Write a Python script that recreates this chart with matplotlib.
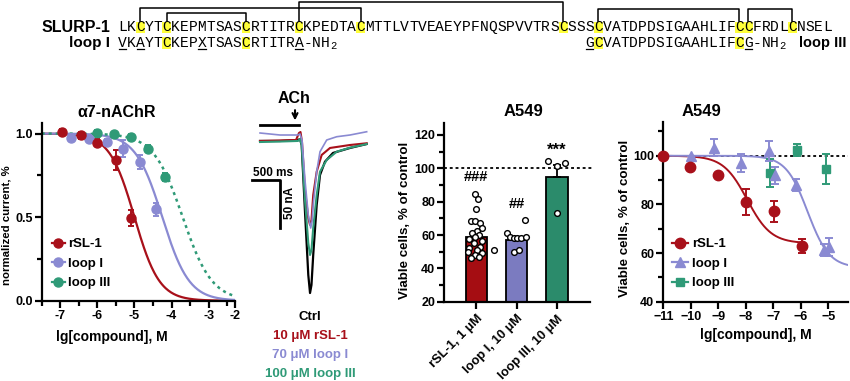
import numpy as np
import matplotlib
matplotlib.use('Agg')
import matplotlib.pyplot as plt
import matplotlib.transforms as mtransforms
from matplotlib.lines import Line2D
from matplotlib.patches import Rectangle

plt.rcParams['font.family'] = ['Liberation Sans', 'DejaVu Sans']
plt.rcParams['font.weight'] = 'bold'
plt.rcParams['axes.labelweight'] = 'bold'

# ---------------- data ----------------
seq_slurp = "LKCYTCKEPMTSASCRTITRCKPEDTACMTTLVTVEAEYPFNQSPVVTRSCSSSCVATDPDSIGAAHLIFCCFRDLCNSEL"
seq_loop1 = "VKAYTCKEPXTSASCRTITRA"
seq_loop3 = "GCVATDPDSIGAAHLIFCG"
loop3_start = 54            # residue number of first loop III residue
loop1_underlined = [1, 3, 10, 21]
loop3_underlined = [54, 72]
disulfides = [(3, 28), (6, 15), (21, 51), (55, 71), (72, 77)]

# panel A: alpha7-nAChR dose response
a_rsl_x = [-6.95, -6.45, -6.0, -5.5, -5.1]
a_rsl_y = [1.01, 0.99, 0.945, 0.84, 0.495]
a_rsl_e = [0.015, 0.02, 0.02, 0.06, 0.05]
a_l1_x = [-6.7, -6.22, -5.75, -5.3, -4.86, -4.41]
a_l1_y = [0.975, 0.97, 0.95, 0.91, 0.83, 0.546]
a_l1_e = [0.02, 0.02, 0.02, 0.05, 0.04, 0.04]
a_l3_x = [-6.0, -5.55, -5.08, -4.63, -4.18]
a_l3_y = [1.005, 0.995, 0.98, 0.91, 0.74]
a_l3_e = [0.015, 0.015, 0.02, 0.02, 0.025]
# Hill fit parameters (logIC50, slope)
a_rsl_fit = (-5.0, 1.3)
a_l1_fit = (-4.25, 1.2)
a_l3_fit = (-3.7, 1.1)

# trace panel: time (ms) and current (nA)
tr_black_t = [-714, -357, -36, 0, 30, 89, 148, 179, 205, 236, 298, 357, 446, 589, 893, 1191]
tr_black_i = [-1, -1, 0, 1, -5.2, -74.7, -140.6, -159.4, -151, -119.8, -67.7, -36.5, -22.6, -13.5, -8.3, -4.2]
tr_green_t = [-714, -357, -36, 0, 30, 89, 148, 179, 205, 236, 298, 357, 477, 655, 893, 1191]
tr_green_i = [-2.1, -1.6, -1, 1, -5.2, -62.5, -107.3, -119.8, -114.6, -91.7, -57.3, -33, -20.8, -12.2, -8, -4.2]
tr_red_t = [-714, -357, -71, -18, 9, 36, 89, 148, 179, 205, 236, 298, 387, 536, 893, 1191]
tr_red_i = [-1, -0.5, 0, 7.3, 8.3, -2.1, -52.1, -81.3, -88.5, -83.3, -57.3, -33, -15.6, -8.3, -5.2, -3.4]
tr_purple_t = [-714, -357, -36, 0, 36, 89, 148, 191, 214, 236, 298, 357, 477, 655, 893, 1191]
tr_purple_i = [7.3, 5.2, 5.2, 6.3, 0, -41.7, -78.1, -91.7, -85.4, -67.7, -33, -12.2, 0, 3.4, 5.2, 8.6]
trace_labels = ["Ctrl", "10 \u03bcM rSL-1", "70 \u03bcM loop I", "100 \u03bcM loop III"]

# bar panel
bar_labels = ["rSL-1, 1 \u03bcM", "loop I, 10 \u03bcM", "loop III, 10 \u03bcM"]
bar_means = [58.6, 56.8, 94.6]
bar_sem = [2.3, 1.6, 7.6]
bar_marks = ["###", "##", "***"]
bar_mark_y = [94.6, 78.4, 111.0]
dots_rsl = [84.6, 81.4, 75.4, 68.6, 68.6, 67, 64, 62.4, 61, 60, 59, 57.4, 56.6, 55.4, 53, 52, 51, 50, 49, 48, 47, 46, 51]
dots_rsl_dx = [-0.04, 0.05, -0.01, -0.14, -0.04, 0.09, 0.13, 0.02, -0.12, 0.07, -0.04, -0.18, 0.14, -0.06, 0.09, -0.18, 0.02, -0.21, 0.13, -0.04, 0.07, -0.14, 0.44]
dots_l1 = [69, 61, 58.6, 58, 58, 58, 59, 50, 51]
dots_l1_dx = [0.22, -0.24, -0.17, -0.07, 0.02, 0.12, 0.23, -0.07, 0.05]
dots_l3 = [104.6, 101.4, 103, 73]
dots_l3_dx = [-0.21, 0.0, 0.21, 0.0]

# A549 dose response
c_rsl_x = [-11, -10.03, -9.0, -7.99, -6.96, -5.97]
c_rsl_y = [100, 95.2, 92.1, 81.1, 77.2, 62.9]
c_rsl_e = [0, 0, 0, 5.3, 4.4, 2.7]
c_l1_x = [-10.0, -9.16, -8.18, -7.16, -6.94, -6.18, -5.15, -4.96]
c_l1_y = [100, 103.2, 97, 102, 92, 88, 61.1, 62.5]
c_l1_e = [0, 3.5, 3.8, 4.0, 3.5, 2.4, 2.5, 3.6]
c_l3_x = [-7.12, -6.15, -5.08]
c_l3_y = [92.8, 102.5, 94.5]
c_l3_e = [5.7, 2.5, 6.1]
# (logIC50, slope, top, bottom, x_end)
c_rsl_fit = (-7.95, 1.0, 100, 64, -5.9)
c_l1_fit = (-5.75, 1.1, 100, 54, -4.27)

RED = '#a8101a'
PUR = '#8a8ad2'
GRN = '#2f9a77'
BAR_RED = '#a50d12'
BAR_PUR = '#7b7bc0'
BAR_GRN = '#2b8b6b'
YEL = '#ffff3a'

# ---------------- figure ----------------
W, H = 850, 381
fig = plt.figure(figsize=(W / 100, H / 100), dpi=100)


def pax(l, t, r, b):
    return fig.add_axes([l / W, 1 - b / H, (r - l) / W, (b - t) / H])


ov = pax(0, 0, W, H)
ov.set_xlim(0, W)
ov.set_ylim(H, 0)
ov.axis('off')

# ---- sequence header ----
x0, cw = 118.3, 8.81
y1, y2 = 27.3, 42.7
mono = dict(family='Liberation Mono', fontsize=10.5, fontweight='normal', ha='center', va='center')


def cx(pos):
    return x0 + (pos - 0.5) * cw


for i, ch in enumerate(seq_slurp):
    p = i + 1
    if ch == 'C':
        ov.add_patch(Rectangle((cx(p) - cw / 2, y1 - 5.8), cw, 11.6, color=YEL, lw=0, zorder=1))
    ov.text(cx(p), y1, ch, zorder=3, **mono)


def draw_row2(seq, start, underl):
    for i, ch in enumerate(seq):
        p = start + i
        if ch == 'C':
            ov.add_patch(Rectangle((cx(p) - cw / 2, y2 - 5.8), cw, 11.8, color=YEL, lw=0, zorder=1))
        ov.text(cx(p), y2, ch, zorder=3, **mono)
        if p in underl:
            ov.plot([cx(p) - cw / 2 + 0.8, cx(p) + cw / 2 - 0.8], [y2 + 6.0, y2 + 6.0], color='k', lw=0.9, zorder=3)
    end = start + len(seq)
    for j, ch in enumerate("-NH"):
        ov.text(cx(end + j), y2, ch, zorder=3, **mono)
    ov.text(x0 + (end + 2) * cw, y2 + 3, "2", family='Liberation Mono', fontsize=7.5,
            fontweight='normal', ha='left', va='center')


draw_row2(seq_loop1, 1, loop1_underlined)
draw_row2(seq_loop3, loop3_start, loop3_underlined)

bracket_h = {(3, 28): 8.3, (6, 15): 12.7, (21, 51): 1.7, (55, 71): 9.3, (72, 77): 9.3}
for a, b in disulfides:
    h = bracket_h[(a, b)]
    ov.plot([cx(a), cx(a), cx(b), cx(b)], [20.7, h, h, 20.7], color='k', lw=1.1, zorder=2)

ov.text(110, y1, "SLURP-1", ha='right', va='center', fontsize=11.5)
ov.text(110, y2, "loop I", ha='right', va='center', fontsize=11)
ov.text(847, y2, "loop III", ha='right', va='center', fontsize=10.5)


def style(ax):
    for s in ['top', 'right']:
        ax.spines[s].set_visible(False)
    for s in ['left', 'bottom']:
        ax.spines[s].set_linewidth(1.6)
    ax.tick_params(which='major', length=5, width=1.6, labelsize=9, pad=1.5)
    ax.tick_params(which='minor', length=3.5, width=1.6)
    ax.patch.set_visible(False)


def hill(x, logic, n, top=1.0, bottom=0.0):
    return bottom + (top - bottom) / (1 + 10 ** (n * (np.asarray(x) - logic)))


# ---- panel A ----
ax1 = pax(41.7, 122.7, 235, 300.7)
style(ax1)
ax1.set_xlim(-7.5, -2.29)
ax1.set_ylim(0, 1.065)
ax1.set_xticks([-7, -6, -5, -4, -3, -2.29])
ax1.set_xticklabels(['-7', '-6', '-5', '-4', '-3', '-2'])
ax1.set_xticks([-7.5, -6.5, -5.5, -4.5, -3.5, -2.5], minor=True)
ax1.set_yticks([0, 0.5, 1.0])
ax1.set_yticklabels(['0.0', '0.5', '1.0'])
ax1.set_yticks([0.25, 0.75], minor=True)
xx = np.linspace(-7.5, -2.29, 300)
ax1.plot(xx, hill(xx, *a_rsl_fit), color=RED, lw=1.6, zorder=2)
ax1.plot(xx, hill(xx, *a_l1_fit), color=PUR, lw=1.6, zorder=2)
ax1.plot(xx, hill(xx, *a_l3_fit), color=GRN, lw=1.8, ls=(0, (1.2, 1.6)), zorder=2)
for x, y, e, c in [(a_l3_x, a_l3_y, a_l3_e, GRN), (a_l1_x, a_l1_y, a_l1_e, PUR), (a_rsl_x, a_rsl_y, a_rsl_e, RED)]:
    ax1.errorbar(x, y, yerr=e, fmt='o', color=c, ms=6.5, capsize=2.5, elinewidth=1.4, capthick=1.4, zorder=3, clip_on=False)
h1 = [Line2D([], [], color=RED, marker='o', ms=6.5, lw=1.6),
      Line2D([], [], color=PUR, marker='o', ms=6.5, lw=1.6),
      Line2D([], [], color=GRN, marker='o', ms=6.5, lw=1.6)]
ax1.legend(h1, ['rSL-1', 'loop I', 'loop III'], loc='upper left', bbox_to_anchor=(52 / W, 1 - 238 / H),
           bbox_transform=fig.transFigure, frameon=False, borderpad=0, handlelength=0.95,
           handletextpad=0.3, labelspacing=0.55, fontsize=9.5, borderaxespad=0)

ov.text(117, 112.7, "\u03b17-nAChR", ha='center', va='center', fontsize=11.5)
ov.text(112, 337, "lg[compound], M", ha='center', va='center', fontsize=10)
ov.text(7, 225, "normalized current, %", ha='center', va='center', rotation=90, fontsize=8.2)

# ---- trace panel ----
axt = pax(240, 90, 380, 300)
axt.set_xlim((240 - 300) * 17.86, (380 - 300) * 17.86)
axt.set_ylim((140 - 300) * 1.0417, (140 - 90) * 1.0417)
axt.axis('off')
axt.plot(tr_black_t, tr_black_i, color='k', lw=1.6)
axt.plot(tr_red_t, tr_red_i, color=RED, lw=1.5)
axt.plot(tr_green_t, tr_green_i, color=GRN, lw=1.5)
axt.plot(tr_purple_t, tr_purple_i, color=PUR, lw=1.2)
# ACh application bar and arrow
axt.plot([-714, -18], [15.6, 15.6], color='k', lw=2)
axt.annotate('', xy=(-89, 17.5), xytext=(-89, 34),
             arrowprops=dict(arrowstyle='->', color='k', lw=1.5, mutation_scale=9))
axt.text(-107, 43.5, "ACh", ha='center', va='center', fontsize=11.5)
# scale bars
sb_t, sb_i = -857, -41.7
axt.plot([sb_t, sb_t + 500, sb_t + 500], [sb_i, sb_i, sb_i - 50], color='k', lw=2)
axt.text(sb_t + 10, sb_i + 7, "500 ms", ha='left', va='center', fontsize=8.5)
axt.text(sb_t + 500 + 180, sb_i - 24, "50 nA", ha='center', va='center', rotation=90, fontsize=8.5)
for lab, c, y in zip(trace_labels, ['k', RED, PUR, GRN], [317, 335.5, 355, 373.5]):
    ov.text(310, y, lab, ha='center', va='center', color=c, fontsize=9.5)

# ---- bar panel ----
ax3 = pax(444.3, 123.3, 590, 301.7)
style(ax3)
ax3.set_xlim(-0.8, 2.83)
ax3.set_ylim(20, 127)
ax3.set_yticks([20, 40, 60, 80, 100, 120])
ax3.set_yticks([30, 50, 70, 90, 110], minor=True)
xs = np.arange(len(bar_means))
ax3.bar(xs, bar_means, width=0.54, color=[BAR_RED, BAR_PUR, BAR_GRN], edgecolor='k', lw=1.3, zorder=2)
ax3.errorbar(xs, bar_means, yerr=[[0, 0, 0], bar_sem], fmt='none', ecolor='k', elinewidth=1.3,
             capsize=3, capthick=1.3, zorder=2)
for i, (vals, dx) in enumerate([(dots_rsl, dots_rsl_dx), (dots_l1, dots_l1_dx), (dots_l3, dots_l3_dx)]):
    ax3.scatter(np.array(dx) + i, vals, s=17, facecolor='white', edgecolor='k', lw=1.0, zorder=4)
ax3.axhline(100, color='k', lw=1.3, ls=(0, (1.6, 1.6)), zorder=3, xmax=1.02, clip_on=False)
for i, (m, y) in enumerate(zip(bar_marks, bar_mark_y)):
    ax3.text(i, y, m, ha='center', va='center', fontsize=12 if m == "***" else 10.5)
ax3.set_xticks(xs)
ax3.set_xticklabels(bar_labels, rotation=45, ha='right', va='top', rotation_mode='anchor', fontsize=9.3)
shift = mtransforms.ScaledTranslation(6 / 100, 1 / 100, fig.dpi_scale_trans)
for lab in ax3.get_xticklabels():
    lab.set_transform(lab.get_transform() + shift)
ax3.tick_params(axis='x', pad=3)
ov.text(523.3, 111.7, "A549", ha='center', va='center', fontsize=12)
ov.text(405, 220, "Viable cells, % of control", ha='center', va='center', rotation=90, fontsize=9.6)

# ---- A549 dose response ----
ax4 = pax(663.3, 121.7, 848.3, 301.7)
style(ax4)
ax4.set_xlim(-11, -4.27)
ax4.set_ylim(40, 114)
ax4.set_xticks([-11, -10, -9, -8, -7, -6, -5])
ax4.set_yticks([40, 60, 80, 100])
ax4.set_yticks([50, 70, 90, 110], minor=True)
ax4.axhline(100, color='k', lw=1.3, ls=(0, (1.6, 1.6)), zorder=1)
lg, n, top, bot, xe = c_rsl_fit
x4 = np.linspace(-11, xe, 300)
ax4.plot(x4, hill(x4, lg, n, top, bot), color=RED, lw=1.4, zorder=2)
lg, n, top, bot, xe = c_l1_fit
x4 = np.linspace(-11, xe, 300)
ax4.plot(x4, hill(x4, lg, n, top, bot), color=PUR, lw=1.4, zorder=2)
ax4.errorbar(c_l3_x, c_l3_y, yerr=c_l3_e, fmt='s', color=GRN, ms=6, capsize=3, elinewidth=1.4, capthick=1.4, zorder=3)
ax4.errorbar(c_l1_x, c_l1_y, yerr=c_l1_e, fmt='^', color=PUR, ms=7.5, capsize=3, elinewidth=1.4, capthick=1.4, zorder=3)
ax4.errorbar(c_rsl_x, c_rsl_y, yerr=c_rsl_e, fmt='o', color=RED, ms=7.5, capsize=3, elinewidth=1.4, capthick=1.4, zorder=4, clip_on=False)
h4 = [Line2D([], [], color=RED, marker='o', ms=7.5, lw=1.6),
      Line2D([], [], color=PUR, marker='^', ms=7.5, lw=1.6),
      Line2D([], [], color=GRN, marker='s', ms=6, lw=1.6)]
ax4.legend(h4, ['rSL-1', 'loop I', 'loop III'], loc='upper left', bbox_to_anchor=(672 / W, 1 - 238 / H),
           bbox_transform=fig.transFigure, frameon=False, borderpad=0, handlelength=1.2,
           handletextpad=0.3, labelspacing=0.55, fontsize=9.5, borderaxespad=0)
ov.text(701.7, 111.7, "A549", ha='center', va='center', fontsize=12)
ov.text(755.7, 335, "lg[compound], M", ha='center', va='center', fontsize=10)
ov.text(625, 218, "Viable cells, % of control", ha='center', va='center', rotation=90, fontsize=9.6)

fig.savefig('out.png', dpi=100)
